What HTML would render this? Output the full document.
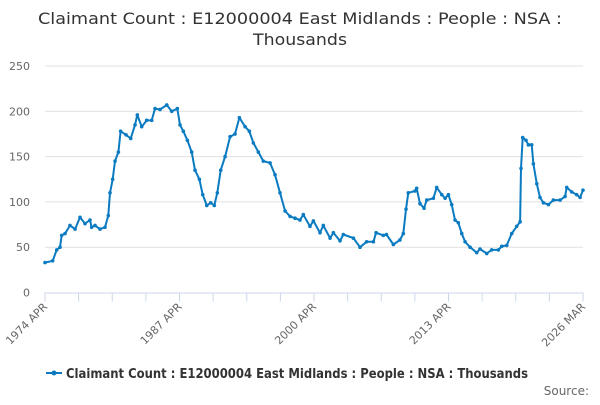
<!DOCTYPE html>
<html><head><meta charset="utf-8"><style>
body{margin:0;background:#fff;}
svg text{font-family:"DejaVu Sans","Liberation Sans",sans-serif;}
</style></head><body>
<svg width="600" height="400" xmlns="http://www.w3.org/2000/svg">
<g id="g"></g>
</svg>
<script>
const years=[1974.25,1974.99,1975.38,1975.70,1975.86,1976.18,1976.66,1977.15,1977.63,1978.11,1978.59,1978.75,1979.08,1979.56,1980.04,1980.36,1980.52,1980.78,1981.01,1981.33,1981.55,1982.07,1982.52,1982.94,1983.16,1983.58,1984.06,1984.55,1984.87,1985.35,1986.0,1986.48,1987.02,1987.28,1987.60,1987.99,1988.41,1988.73,1989.15,1989.47,1989.86,1990.24,1990.59,1990.88,1991.21,1991.63,1992.11,1992.59,1993.01,1993.56,1993.97,1994.36,1994.84,1995.32,1995.97,1996.45,1996.93,1997.42,1997.90,1998.38,1998.86,1999.18,1999.82,2000.15,2000.79,2001.11,2001.76,2002.08,2002.72,2003.04,2004.01,2004.65,2005.29,2005.94,2006.2,2006.9,2007.2,2007.87,2008.5,2008.83,2009.09,2009.31,2009.96,2010.12,2010.44,2010.83,2011.09,2011.73,2012.05,2012.54,2012.86,2013.18,2013.5,2013.82,2014.14,2014.47,2014.79,2015.27,2015.91,2016.23,2016.88,2017.36,2018.0,2018.33,2018.81,2019.29,2019.77,2020.1,2020.19,2020.35,2020.67,2020.9,2021.22,2021.38,2021.71,2022.02,2022.35,2022.83,2023.31,2023.96,2024.44,2024.6,2025.08,2025.56,2025.89,2026.17];
const values=[33,35,47,50,63,65,74,70,83,76,80,72,74,70,72,85,110,125,145,155,178,174,170,185,196,183,190,190,203,202,207,200,203,185,178,168,155,135,125,108,96,99,96,110,135,150,172,175,193,183,178,165,155,145,143,130,110,90,84,82,80,86,73,79,66,74,60,66,57,64,60,50,56,56,66,63,64,53,58,65,92,110,112,115,98,93,102,104,116,108,104,108,97,80,77,65,56,50,44,48,43,47,47,51,52,65,73,78,137,171,168,163,163,142,120,105,99,97,102,102,106,116,111,108,105,113];
const yTicks=[0,50,100,150,200,250];
const xLabels=["1974 APR","1987 APR","2000 APR","2013 APR","2026 MAR"];
const NS="http://www.w3.org/2000/svg";
const g=document.getElementById('g');
const L=45,R=583,T=66,B=292.5,y0=1974.25,y1=2026.17;
const xs=v=>L+(v-y0)/(y1-y0)*(R-L);
const ys=v=>B-v/250*(B-T);
function mk(t,a,txt){const e=document.createElementNS(NS,t);for(const k in a)e.setAttribute(k,a[k]);if(txt!=null)e.textContent=txt;g.appendChild(e);return e;}
let e;
e=mk('text',{x:38,y:24,'font-size':16,fill:'#333',textLength:524,lengthAdjust:'spacingAndGlyphs'},'Claimant Count : E12000004 East Midlands : People : NSA :');


e=mk('text',{x:253,y:45,'font-size':16,fill:'#333',textLength:94,lengthAdjust:'spacingAndGlyphs'},'Thousands');


yTicks.forEach(v=>{
 if(v>0){e=mk('line',{x1:L,x2:R,y1:ys(v),y2:ys(v),stroke:'#e0e0e0','stroke-width':1});
 
 }
 e=mk('text',{x:30,y:ys(v)+4,'text-anchor':'end','font-size':11,fill:'#666'},v);
 
 
});
e=mk('line',{x1:L,x2:R,y1:B+0.5,y2:B+0.5,stroke:'#ccd6eb','stroke-width':1});


for(let i=0;i<=16;i++){const x=L+i*(R-L)/16;
 e=mk('line',{x1:x,x2:x,y1:B,y2:B+9,stroke:'#ccd6eb','stroke-width':1});
 
 }
xLabels.forEach((s,i)=>{const x=L+i*(R-L)/4;
 e=mk('text',{x:x+3,y:B+15,'text-anchor':'end','font-size':11,fill:'#666',transform:`rotate(-45 ${x+3} ${B+15})`},s);
 
 });
const pts=years.map((yr,i)=>xs(yr).toFixed(1)+','+ys(values[i]).toFixed(1)).join(' ');
e=mk('polyline',{points:pts,fill:'none',stroke:'#0a7bc1','stroke-width':2,'stroke-linejoin':'round'});


years.forEach((yr,i)=>{e=mk('circle',{cx:xs(yr),cy:ys(values[i]),r:1.8,fill:'#0a7bc1'});
 
 });
e=mk('line',{x1:46,x2:62,y1:373,y2:373,stroke:'#0a7bc1','stroke-width':2});


e=mk('circle',{cx:54,cy:373,r:2.5,fill:'#0a7bc1'});


e=mk('text',{x:66,y:378,'font-size':13,'font-weight':'bold',fill:'#333',textLength:462,lengthAdjust:'spacingAndGlyphs'},'Claimant Count : E12000004 East Midlands : People : NSA : Thousands');


e=mk('text',{x:589,y:395,'text-anchor':'end','font-size':12,fill:'#666'},'Source:');


</script>
</body></html>
